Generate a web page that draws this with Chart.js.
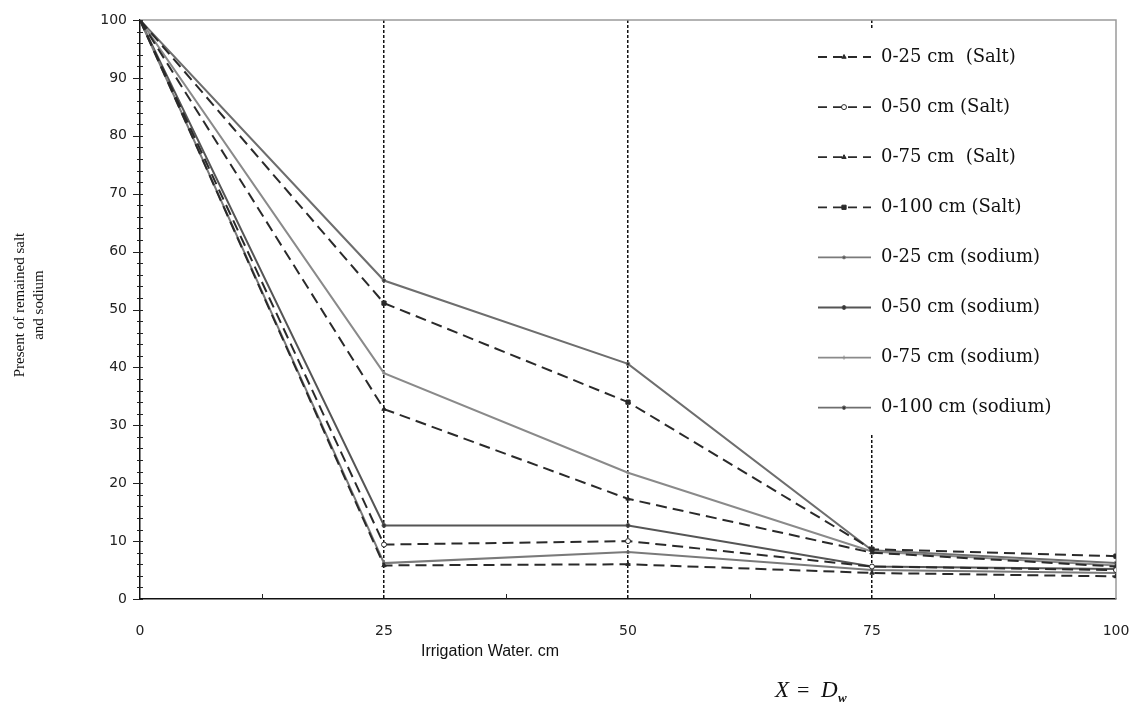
<!DOCTYPE html>
<html>
<head>
<meta charset="utf-8">
<script src="https://cdn.jsdelivr.net/npm/chart.js@4.4.1/dist/chart.umd.min.js"></script>
<style>
html,body{margin:0;padding:0;background:#fff;}
#wrap{width:1137px;height:718px;}
</style>
</head>
<body>
<div id="wrap"><canvas id="chart" width="1137" height="718"></canvas></div>
<script>
const water=[0,25,50,75,100];
const xTicks=[0,25,50,75,100];

const salt25=[100,5.8,6.0,4.5,3.9];
const salt50=[100,9.4,10.0,5.6,5.0];
const salt75=[100,32.8,17.3,8.0,5.6];
const salt100=[100,51.1,34.0,8.6,7.4];
const sodium25=[100,6.2,8.1,5.0,4.5];
const sodium50=[100,12.7,12.7,5.6,5.2];
const sodium75=[100,39.0,21.8,8.2,5.8];
const sodium100=[100,55.0,40.6,8.4,6.2];

const labels=["0-25 cm  (Salt)","0-50 cm (Salt)","0-75 cm  (Salt)","0-100 cm (Salt)",
  "0-25 cm (sodium)","0-50 cm (sodium)","0-75 cm (sodium)","0-100 cm (sodium)"];
const series=[salt25,salt50,salt75,salt100,sodium25,sodium50,sodium75,sodium100];

const styles=[
  {c:"#2a2a2a",dash:[11,6],ps:"triangle",r:2.5,bg:"#2a2a2a"},
  {c:"#2a2a2a",dash:[11,6],ps:"circle",r:2.5,bg:"#fff"},
  {c:"#2a2a2a",dash:[11,6],ps:"triangle",r:2.5,bg:"#2a2a2a"},
  {c:"#2a2a2a",dash:[11,6],ps:"rect",r:3,bg:"#2a2a2a"},
  {c:"#7a7a7a",dash:[],ps:"circle",r:1.5,bg:"#555"},
  {c:"#555555",dash:[],ps:"circle",r:2,bg:"#333"},
  {c:"#8a8a8a",dash:[],ps:"cross",r:2,bg:"#777"},
  {c:"#6e6e6e",dash:[],ps:"circle",r:1.8,bg:"#333"}
];

const datasets=series.map((s,i)=>({
  label:labels[i],
  data:s.map((v,j)=>({x:water[j],y:v})),
  borderColor:styles[i].c,
  borderDash:styles[i].dash,
  borderWidth:2,
  pointStyle:styles[i].ps,
  pointRadius:styles[i].r,
  pointBackgroundColor:styles[i].bg,
  pointBorderColor:styles[i].c,
  pointBorderWidth:1,
  tension:0,
  fill:false
}));

/* frame, minor ticks, titles and the legend box */
const extras={
  id:"extras",
  beforeDatasetsDraw(chart){
    const {ctx,chartArea:a,scales:{x,y}}=chart;
    ctx.save();
    ctx.strokeStyle="#9a9a9a";ctx.lineWidth=1.5;
    ctx.beginPath();
    ctx.moveTo(a.left,a.top);ctx.lineTo(a.right,a.top);ctx.lineTo(a.right,a.bottom);
    ctx.stroke();
    ctx.strokeStyle="#222";ctx.lineWidth=1;
    for(let v=0;v<=100;v+=2){
      const py=Math.round(y.getPixelForValue(v))+0.5;
      ctx.beginPath();
      ctx.moveTo(v%10===0?a.left-7:a.left-3,py);ctx.lineTo(a.left+3,py);
      ctx.stroke();
    }
    [12.5,37.5,62.5,87.5].forEach(v=>{
      const px=Math.round(x.getPixelForValue(v))+0.5;
      ctx.beginPath();ctx.moveTo(px,a.bottom);ctx.lineTo(px,a.bottom-5);ctx.stroke();
    });
    ctx.restore();
  },
  afterDraw(chart){
    const {ctx}=chart;
    ctx.save();
    // legend
    ctx.fillStyle="#fff";
    ctx.fillRect(800,29,296,404);
    chart.data.datasets.forEach((ds,i)=>{
      const ly=57+i*50.1;
      ctx.save();
      ctx.strokeStyle=ds.borderColor;ctx.lineWidth=1.8;
      ctx.setLineDash(ds.borderDash.length?[9,6]:[]);
      ctx.beginPath();ctx.moveTo(818,ly);ctx.lineTo(871,ly);ctx.stroke();
      ctx.setLineDash([]);
      ctx.fillStyle=ds.pointBackgroundColor;ctx.strokeStyle=ds.pointBorderColor;ctx.lineWidth=1;
      Chart.helpers.drawPoint(ctx,{pointStyle:ds.pointStyle,radius:ds.pointRadius,rotation:0,borderWidth:1},844,ly);
      ctx.restore();
      ctx.fillStyle="#111";
      ctx.font="18px 'DejaVu Serif'";
      ctx.textBaseline="middle";ctx.textAlign="left";
      ctx.fillText(ds.label,881,ly);
    });
    // y title
    ctx.fillStyle="#111";
    ctx.font="15px 'Liberation Serif'";
    ctx.textAlign="center";ctx.textBaseline="middle";
    ctx.save();ctx.translate(20,305);ctx.rotate(-Math.PI/2);
    ctx.fillText("Present of remained salt",0,0);ctx.restore();
    ctx.save();ctx.translate(39,305);ctx.rotate(-Math.PI/2);
    ctx.fillText("and sodium",0,0);ctx.restore();
    // x title
    ctx.font="16px 'Liberation Sans'";
    ctx.fillText("Irrigation Water. cm",490,652);
    // formula
    ctx.font="italic 23px 'Liberation Serif'";
    ctx.textAlign="left";
    ctx.fillText("X",775,691);
    ctx.font="22px 'Liberation Serif'";
    ctx.fillText("=",797,691);
    ctx.font="italic 23px 'Liberation Serif'";
    ctx.fillText("D",821,691);
    ctx.font="italic bold 13px 'Liberation Serif'";
    ctx.fillText("w",838,699);
    ctx.restore();
  }
};

new Chart(document.getElementById("chart"),{
  type:"line",
  data:{datasets},
  options:{
    responsive:false,
    animation:false,
    layout:{padding:{top:20,right:21,left:0,bottom:0}},
    plugins:{legend:{display:false},tooltip:{enabled:false}},
    scales:{
      x:{
        type:"linear",min:0,max:100,
        afterBuildTicks:s=>{s.ticks=xTicks.map(v=>({value:v}));},
        afterFit:s=>{s.height=119;s.paddingLeft=0;s.paddingRight=0;},
        ticks:{padding:24,color:"#222",font:{family:"DejaVu Sans",size:14},maxRotation:0},
        grid:{drawTicks:false,lineWidth:1.5,
          color:c=>(c.tick&&[25,50,75].includes(c.tick.value))?"#111":"rgba(0,0,0,0)"},
        border:{color:"#111",width:1.5,dash:[3,2]}
      },
      y:{
        min:0,max:100,
        ticks:{stepSize:10,padding:13,color:"#222",font:{family:"DejaVu Sans",size:14}},
        afterFit:s=>{s.width=140;s.paddingTop=0;s.paddingBottom=0;},
        grid:{display:false,drawTicks:false},
        border:{color:"#111",width:1.5}
      }
    }
  },
  plugins:[extras]
});
</script>
</body>
</html>
